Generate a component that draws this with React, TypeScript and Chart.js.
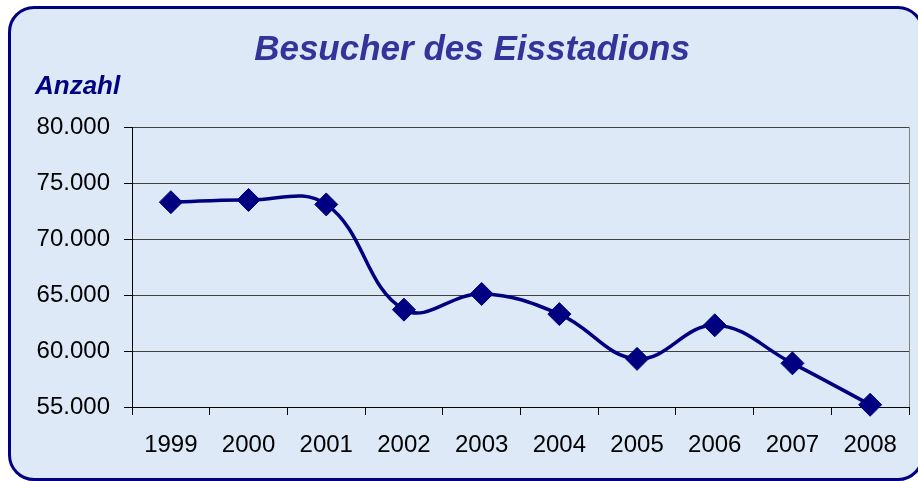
import React, { useEffect, useRef } from "react";
import { Chart, registerables } from "chart.js";

Chart.register(...registerables);

const years = ["1999", "2000", "2001", "2002", "2003", "2004", "2005", "2006", "2007", "2008"];
const visitors = [73300, 73500, 73100, 63700, 65100, 63300, 59300, 62300, 58900, 55200];
const yMin = 55000;
const yMax = 80000;
const yStep = 5000;
const chartTitle = "Besucher des Eisstadions";
const yLabel = "Anzahl";

const fontFamily = "'Liberation Sans', Arial, sans-serif";

function formatDe(v: number): string {
  const s = Math.round(v).toString();
  return s.replace(/\B(?=(\d{3})+(?!\d))/g, ".");
}

const rightBorder = {
  id: "rightBorder",
  beforeDatasetsDraw(chart: any) {
    const { ctx, chartArea } = chart;
    ctx.save();
    ctx.strokeStyle = "#808080";
    ctx.lineWidth = 1;
    ctx.beginPath();
    ctx.moveTo(Math.round(chartArea.right) + 0.5, chartArea.top);
    ctx.lineTo(Math.round(chartArea.right) + 0.5, chartArea.bottom);
    ctx.stroke();
    ctx.restore();
  },
};

export default function App() {
  const ref = useRef<HTMLCanvasElement | null>(null);

  useEffect(() => {
    if (!ref.current) return;
    const chart = new Chart(ref.current, {
      type: "line",
      data: {
        labels: years,
        datasets: [
          {
            data: visitors,
            borderColor: "#000080",
            borderWidth: 3.5,
            tension: 0.4,
            pointStyle: "rectRot",
            pointRadius: 11.5,
            pointBackgroundColor: "#000080",
            pointBorderColor: "#000080",
            pointBorderWidth: 1,
            fill: false,
            clip: false,
          },
        ],
      },
      options: {
        responsive: false,
        animation: false,
        layout: { autoPadding: false, padding: { left: 35, right: 9, top: 8, bottom: 0 } },
        plugins: {
          legend: { display: false },
          tooltip: { enabled: false },
          title: {
            display: true,
            text: chartTitle,
            color: "#333399",
            font: { family: fontFamily, size: 35, weight: "bold", style: "italic" },
            padding: { top: 21, bottom: 0 },
          },
          subtitle: {
            display: true,
            text: yLabel,
            align: "start",
            color: "#000080",
            font: { family: fontFamily, size: 26, weight: "bold", style: "italic" },
            padding: { top: 0, bottom: 25 },
          },
        },
        scales: {
          x: {
            type: "category",
            offset: true,
            grid: {
              offset: true,
              drawOnChartArea: false,
              drawTicks: true,
              tickLength: 8,
              color: "#000",
            },
            border: { color: "#000", width: 1 },
            ticks: {
              color: "#000",
              font: { family: fontFamily, size: 24 },
              padding: 16,
              maxRotation: 0,
              autoSkip: false,
            },
            afterFit: (s: any) => {
              s.height = 74;
              s.paddingLeft = 0;
              s.paddingRight = 0;
            },
          },
          y: {
            min: yMin,
            max: yMax,
            grid: {
              color: "#404040",
              tickColor: "#000",
              tickLength: 8,
              drawTicks: true,
            },
            border: { color: "#000", width: 1 },
            ticks: {
              stepSize: yStep,
              color: "#000",
              font: { family: fontFamily, size: 24 },
              padding: 14,
              callback: (v: any) => formatDe(Number(v)),
            },
            afterFit: (s: any) => {
              s.width = 97;
            },
          },
        },
      },
      plugins: [rightBorder],
    });
    return () => chart.destroy();
  }, []);

  return (
    <div style={{ position: "fixed", left: 0, top: 0, width: 918, height: 481, background: "#fff", overflow: "hidden" }}>
      <div
        style={{
          position: "absolute",
          left: 8,
          top: 6,
          width: 916,
          height: 475,
          boxSizing: "border-box",
          border: "3px solid #000080",
          borderRadius: 26,
          background: "#dde9f6",
        }}
      />
      <canvas ref={ref} width={918} height={481} style={{ position: "absolute", left: 0, top: 0, width: 918, height: 481 }} />
    </div>
  );
}
